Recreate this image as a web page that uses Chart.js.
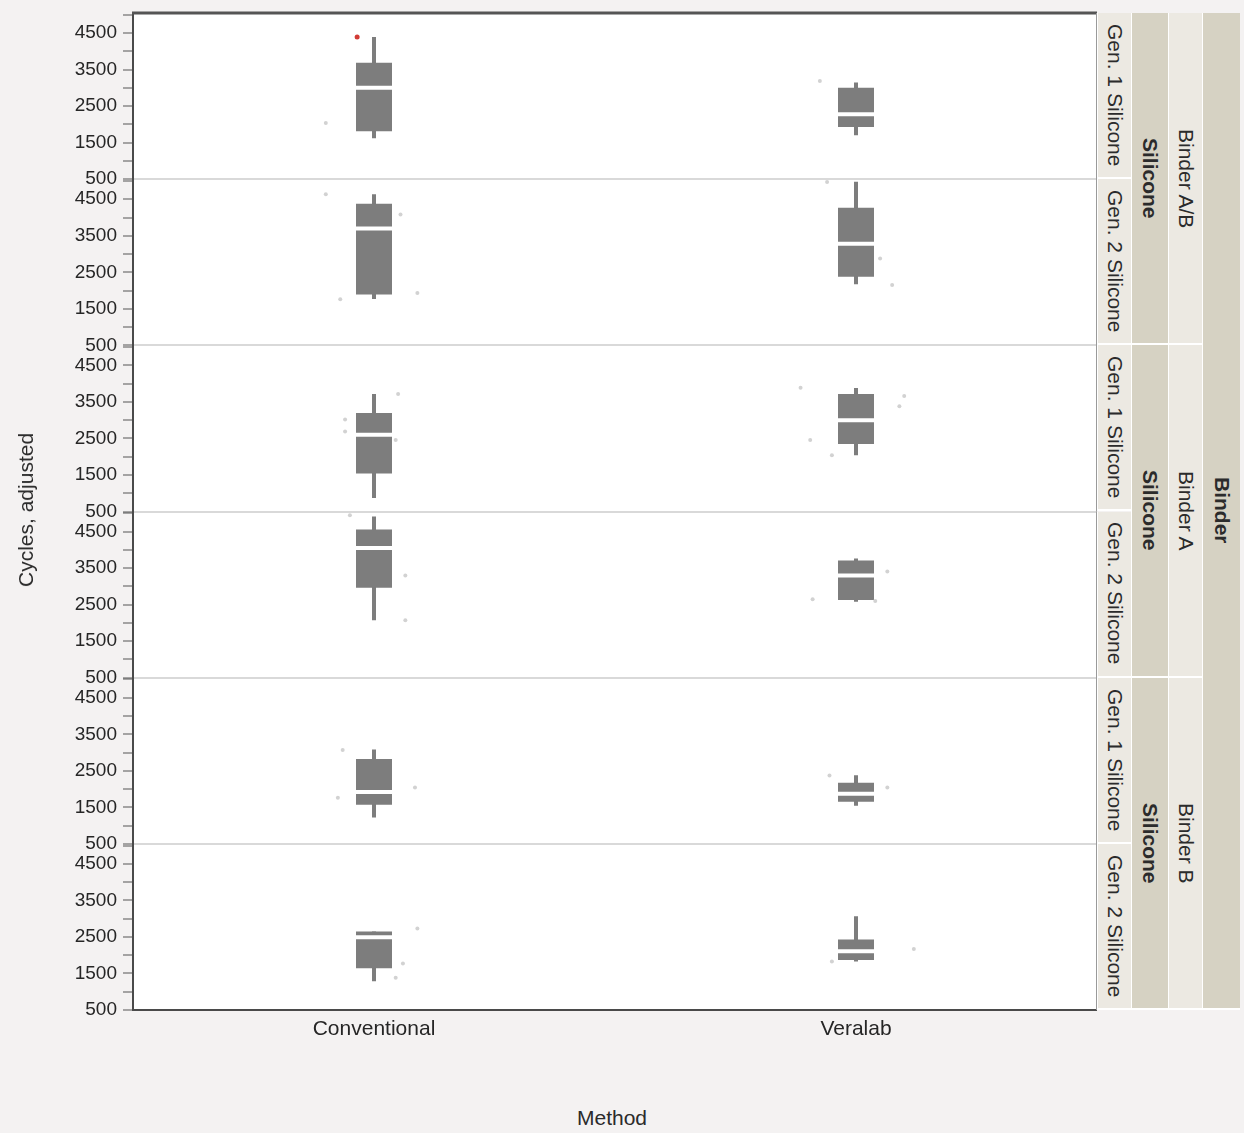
<!DOCTYPE html>
<html>
<head>
<meta charset="utf-8">
<script src="https://cdn.jsdelivr.net/npm/chart.js@4.4.1/dist/chart.umd.min.js"></script>
<style>
  html, body { margin: 0; padding: 0; background: #f4f2f2; }
  #wrap { position: relative; width: 1244px; height: 1133px; font-family: "Liberation Sans", Arial, sans-serif; color: #2b2b2b; overflow: hidden; }
  #plot { position: absolute; left: 0; top: 0; width: 1097px; height: 1050px; }
  .cell { position: absolute; box-sizing: border-box; display: flex; align-items: center; justify-content: center;
          writing-mode: vertical-rl; white-space: nowrap; font-size: 21px; border-bottom: 2px solid #ffffff; border-left: 1px solid #ffffff; }
  .dark { background: #d6d2c3; font-weight: bold; }
  .light { background: #ece9e2; }
  #ytitle { position: absolute; left: 26px; top: 510px; transform: translate(-50%, -50%) rotate(-90deg); font-size: 21px; white-space: nowrap; }
  #xtitle { position: absolute; left: 612px; top: 1118px; transform: translate(-50%, -50%); font-size: 21px; white-space: nowrap; }
</style>
</head>
<body>
<div id="wrap">
  <canvas id="plot" width="1097" height="1050"></canvas>
  <div id="ytitle">Cycles, adjusted</div>
  <div id="xtitle">Method</div>
</div>
<script>
// Category and facet labels
const methods = ['Conventional', 'Veralab'];
const binders = ['Binder A/B', 'Binder A', 'Binder B'];
const silicones = ['Gen. 1 Silicone', 'Gen. 2 Silicone'];
const yTickValues = [500, 1000, 1500, 2000, 2500, 3000, 3500, 4000, 4500, 5000];
const yTickLabels = [500, 1500, 2500, 3500, 4500];

// Box statistics, one row per panel (binder x silicone), columns follow `methods`
const whiskerLow  = [[1620, 1700], [1770, 2170], [ 870, 2040], [2070, 2580], [1220, 1540], [1290, 1830]];
const q1          = [[1815, 1930], [1890, 2380], [1540, 2350], [2960, 2630], [1570, 1650], [1640, 1870]];
const median      = [[3000, 2280], [3700, 3280], [2600, 3000], [4050, 3300], [1920, 1870], [2490, 2110]];
const q3          = [[3690, 3000], [4380, 4270], [3200, 3720], [4560, 3710], [2820, 2170], [2650, 2430]];
const whiskerHigh = [[4390, 3150], [4640, 4980], [3720, 3880], [4910, 3760], [3080, 2380], [2650, 3070]];

// Individual runs: panel, method index, horizontal jitter, cycles
const runPanel  = [0, 0, 1, 1, 1, 1, 1, 1, 1, 2, 2, 2, 2, 2, 2, 2, 2, 2, 3, 3, 3, 3, 3, 3, 4, 4, 4, 4, 4, 5, 5, 5, 5, 5];
const runMethod = [0, 1, 0, 0, 0, 0, 1, 1, 1, 0, 0, 0, 0, 1, 1, 1, 1, 1, 0, 0, 0, 1, 1, 1, 0, 0, 0, 1, 1, 0, 0, 0, 1, 1];
const runJitter = [-0.10, -0.075, -0.10, -0.07, 0.055, 0.09, -0.06, 0.05, 0.075, -0.06, -0.06, 0.05, 0.045, -0.115, -0.095, -0.05, 0.09, 0.10,
                   -0.05, 0.065, 0.065, -0.09, 0.065, 0.04, -0.065, -0.075, 0.085, -0.055, 0.065, 0.09, 0.06, 0.045, -0.05, 0.12];
const runValue  = [2040, 3190, 4640, 1760, 4080, 1930, 4970, 2880, 2150, 3020, 2690, 3720, 2460, 3890, 2460, 2040, 3380, 3660,
                   4950, 3300, 2070, 2650, 3410, 2600, 3070, 1760, 2040, 2370, 2040, 2730, 1770, 1380, 1830, 2170];

// Flagged run (drawn in red)
const flagPanel = [0];
const flagMethod = [0];
const flagJitter = [-0.035];
const flagValue = [4390];

const FONT = '"Liberation Sans", Arial, sans-serif';
const BOX = '#7d7d7d';
const nPanels = whiskerLow.length;

const datasets = [];
const scales = {
  x: {
    type: 'linear', min: -0.5, max: 1.5, offset: false,
    afterBuildTicks: s => { s.ticks = methods.map((m, i) => ({ value: i })); },
    afterFit: s => { s.height = 40; s.paddingLeft = 0; s.paddingRight = 0; },
    ticks: { callback: v => methods[v] ?? '', autoSkip: false, maxRotation: 0, padding: 7,
             color: '#262626', font: { family: FONT, size: 21 } },
    grid: { display: false, drawTicks: false },
    border: { display: true, color: '#4a4a4a', width: 2 }
  }
};

for (let k = 0; k < nPanels; k++) {
  const yid = 'y' + k;
  scales[yid] = {
    type: 'linear', position: 'left', stack: 'panels', stackWeight: 1, weight: nPanels - k,
    min: 500, max: 5050,
    afterBuildTicks: s => { s.ticks = yTickValues.map(v => ({ value: v })); },
    afterFit: s => { s.width = 133; s.paddingTop = 0; s.paddingBottom = 0; },
    ticks: {
      autoSkip: false, padding: 6,
      color: '#262626', font: { family: FONT, size: 19 },
      callback: v => yTickLabels.includes(v) ? String(v) : ''
    },
    grid: {
      drawOnChartArea: true, lineWidth: 2, tickLength: 10, tickColor: '#555555', tickWidth: 1,
      color: c => (c.tick && c.tick.value === 500 && k < nPanels - 1) ? '#d9d9d9' : 'rgba(0,0,0,0)'
    },
    border: { display: true, color: '#4a4a4a', width: 2 }
  };

  datasets.push({
    type: 'bar', label: 'whisker' + k, yAxisID: yid, xAxisID: 'x', grouped: false, order: 3,
    data: methods.map((m, i) => ({ x: i, y: [whiskerLow[k][i], whiskerHigh[k][i]] })),
    backgroundColor: BOX, borderWidth: 0, maxBarThickness: 4
  });
  datasets.push({
    type: 'bar', label: 'box' + k, yAxisID: yid, xAxisID: 'x', grouped: false, order: 2,
    data: methods.map((m, i) => ({ x: i, y: [q1[k][i], q3[k][i]] })),
    backgroundColor: BOX, borderWidth: 0, maxBarThickness: 36
  });
  datasets.push({
    type: 'scatter', label: 'median' + k, yAxisID: yid, xAxisID: 'x', order: 1,
    data: methods.map((m, i) => ({ x: i, y: median[k][i] })),
    pointStyle: 'line', pointRadius: 18, pointBorderWidth: 4, pointBorderColor: '#ffffff', borderColor: '#ffffff'
  });
  const pts = [];
  runPanel.forEach((p, j) => { if (p === k) pts.push({ x: runMethod[j] + runJitter[j], y: runValue[j] }); });
  datasets.push({
    type: 'scatter', label: 'runs' + k, yAxisID: yid, xAxisID: 'x', order: 0,
    data: pts, pointRadius: 2, pointBackgroundColor: '#d2d2d2', pointBorderWidth: 0
  });
  const flagged = [];
  flagPanel.forEach((p, j) => { if (p === k) flagged.push({ x: flagMethod[j] + flagJitter[j], y: flagValue[j] }); });
  if (flagged.length) {
    datasets.push({
      type: 'scatter', label: 'flagged' + k, yAxisID: yid, xAxisID: 'x', order: 0,
      data: flagged, pointRadius: 2.5, pointBackgroundColor: '#d23b35', pointBorderWidth: 0
    });
  }
}

// White plotting field and dark frame edges
const framePlugin = {
  id: 'frame',
  beforeDraw(chart) {
    const { ctx, chartArea: a } = chart;
    ctx.save();
    ctx.fillStyle = '#ffffff';
    ctx.fillRect(a.left, a.top, a.right - a.left, a.bottom - a.top);
    ctx.restore();
  },
  afterDraw(chart) {
    const { ctx, chartArea: a } = chart;
    ctx.save();
    ctx.strokeStyle = '#555555';
    ctx.lineWidth = 3;
    ctx.beginPath();
    ctx.moveTo(a.left - 1, a.top);
    ctx.lineTo(a.right, a.top);
    ctx.stroke();
    ctx.strokeStyle = '#9a9a9a';
    ctx.lineWidth = 1;
    ctx.beginPath();
    ctx.moveTo(a.right - 0.5, a.top);
    ctx.lineTo(a.right - 0.5, a.bottom);
    ctx.stroke();
    ctx.restore();
  }
};

const chart = new Chart(document.getElementById('plot'), {
  type: 'scatter',
  data: { datasets },
  options: {
    responsive: false, animation: false, events: [],
    layout: { autoPadding: false, padding: { top: 13, right: 0, bottom: 0, left: 0 } },
    plugins: { legend: { display: false }, tooltip: { enabled: false } },
    scales
  },
  plugins: [framePlugin]
});

// Facet strips to the right of the panels
const wrap = document.getElementById('wrap');
const x0 = chart.chartArea.right;
const cols = [
  { left: x0, width: 34 },
  { left: x0 + 34, width: 37 },
  { left: x0 + 71, width: 34 },
  { left: x0 + 105, width: 38 }
];
function cell(col, top, bottom, text, cls) {
  const d = document.createElement('div');
  d.className = 'cell ' + cls;
  d.style.left = cols[col].left + 'px';
  d.style.width = cols[col].width + 'px';
  d.style.top = top + 'px';
  d.style.height = (bottom - top) + 'px';
  d.textContent = text;
  wrap.appendChild(d);
}
for (let k = 0; k < nPanels; k++) {
  const s = chart.scales['y' + k];
  cell(0, s.top, s.bottom, silicones[k % 2], 'light');
}
binders.forEach((b, i) => {
  const top = chart.scales['y' + (2 * i)].top;
  const bottom = chart.scales['y' + (2 * i + 1)].bottom;
  cell(1, top, bottom, 'Silicone', 'dark');
  cell(2, top, bottom, b, 'light');
});
cell(3, chart.chartArea.top, chart.chartArea.bottom, 'Binder', 'dark');
</script>
</body>
</html>
